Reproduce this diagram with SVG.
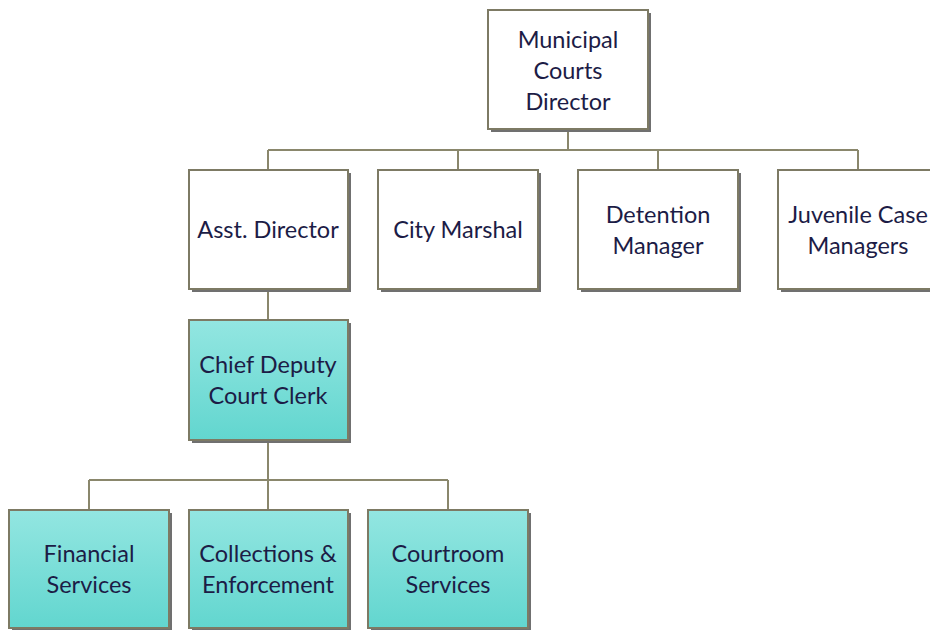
<svg xmlns="http://www.w3.org/2000/svg" width="930" height="630" viewBox="0 0 930 630">
<defs>
<linearGradient id="teal" x1="0" y1="0" x2="0" y2="1">
<stop offset="0" stop-color="#93e6e1"/>
<stop offset="1" stop-color="#62d6cf"/>
</linearGradient>
<style>
.box{stroke:#7d7a64;stroke-width:2}
.w{fill:#ffffff}
.t{fill:url(#teal)}
.sh{fill:#707070}
.c{stroke:#8a876c;stroke-width:2;fill:none}
text{font-family:Lato,"Open Sans","Liberation Sans",sans-serif;font-size:23.5px;fill:#1c1c46;text-anchor:middle}
</style>
</defs>
<rect width="930" height="630" fill="#ffffff"/>
<g id="connectors">
<path class="c" d="M568 130V150M268 150H858M268 150V170M458 150V170M658 150V170M858 150V170"/>
<path class="c" d="M268 290V320"/>
<path class="c" d="M268 440V480M89 480H448M89 480V510M268 480V510M448 480V510"/>
</g>
<g id="director">
<rect class="sh" x="491" y="13" width="160" height="119"/>
<rect class="box w" x="488" y="10" width="160" height="119"/>
<text x="568" y="48">Municipal</text>
<text x="568" y="79">Courts</text>
<text x="568" y="110">Director</text>
</g>
<g id="asst">
<rect class="sh" x="192" y="173" width="159" height="119"/>
<rect class="box w" x="189" y="170" width="159" height="119"/>
<text x="268" y="238">Asst. Director</text>
</g>
<g id="marshal">
<rect class="sh" x="381" y="173" width="160" height="119"/>
<rect class="box w" x="378" y="170" width="160" height="119"/>
<text x="458" y="238">City Marshal</text>
</g>
<g id="detention">
<rect class="sh" x="581" y="173" width="160" height="119"/>
<rect class="box w" x="578" y="170" width="160" height="119"/>
<text x="658" y="223">Detention</text>
<text x="658" y="254">Manager</text>
</g>
<g id="juvenile">
<rect class="sh" x="781" y="173" width="160" height="119"/>
<rect class="box w" x="778" y="170" width="160" height="119"/>
<text x="858" y="223">Juvenile Case</text>
<text x="858" y="254">Managers</text>
</g>
<g id="chief">
<rect class="sh" x="192" y="323" width="159" height="120"/>
<rect class="box t" x="189" y="320" width="159" height="120"/>
<text x="268" y="373">Chief Deputy</text>
<text x="268" y="404">Court Clerk</text>
</g>
<g id="financial">
<rect class="sh" x="12" y="513" width="160" height="118"/>
<rect class="box t" x="9" y="510" width="160" height="118"/>
<text x="89" y="562">Financial</text>
<text x="89" y="593">Services</text>
</g>
<g id="collections">
<rect class="sh" x="192" y="513" width="159" height="118"/>
<rect class="box t" x="189" y="510" width="159" height="118"/>
<text x="268" y="562">Collections &amp;</text>
<text x="268" y="593">Enforcement</text>
</g>
<g id="courtroom">
<rect class="sh" x="371" y="513" width="160" height="118"/>
<rect class="box t" x="368" y="510" width="160" height="118"/>
<text x="448" y="562">Courtroom</text>
<text x="448" y="593">Services</text>
</g>
</svg>
